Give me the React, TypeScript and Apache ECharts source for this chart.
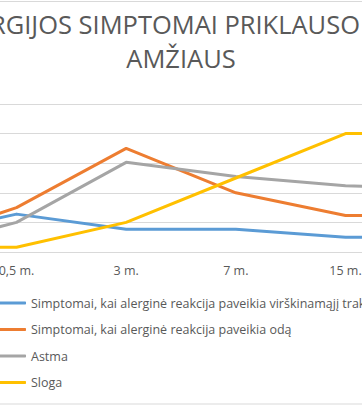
import React, { useEffect, useRef } from "react";
import * as echarts from "echarts";

const titleLine1 = "ALERGIJOS SIMPTOMAI PRIKLAUSO NUO";
const titleLine2 = "AMŽIAUS";
const categories = ["0 m.", "0,5 m.", "3 m.", "7 m.", "15 m.", "20 m."];
const seriesNames = [
  "Simptomai, kai alerginė reakcija paveikia virškinamąjį traktą",
  "Simptomai, kai alerginė reakcija paveikia odą",
  "Astma",
  "Sloga",
];
const digestiveValues = [4.5, 12.8, 7.7, 7.7, 5.0, 5.0];
const skinValues = [2.5, 15, 35, 20, 12.3, 12.3];
const asthmaValues = [0.5, 10, 30.3, 25.5, 22.4, 21];
const rhinitisValues = [1.6, 1.6, 10, 25, 40, 40];
const colors = ["#5B9BD5", "#ED7D31", "#A5A5A5", "#FFC000"];
const yMin = 0;
const yMax = 50;
const yStep = 10;

const CHART_W = 762;
const CHART_H = 407;
const OFFSET_X = 200;
const FONT = "'Open Sans', sans-serif";

function measure(text: string, size: number): number {
  const ctx = document.createElement("canvas").getContext("2d");
  if (!ctx) return text.length * size * 0.6;
  ctx.font = `${size}px 'Open Sans'`;
  return ctx.measureText(text).width;
}

export default function App() {
  const ref = useRef<HTMLDivElement>(null);
  useEffect(() => {
    if (!ref.current) return;
    const chart = echarts.init(ref.current, undefined, { renderer: "svg" });
    const valueSets = [digestiveValues, skinValues, asthmaValues, rhinitisValues];

    const visiblePart = "RGIJOS SIMPTOMAI PRIKLAUSO";
    const titleSize = Math.min(27, Math.max(23, (370 / measure(visiblePart, 100)) * 100));
    const prefixW = measure("ALE", titleSize);
    const line1Left = OFFSET_X - 10 - prefixW;
    const titleStyle = {
      fontFamily: FONT,
      fontSize: titleSize,
      fontWeight: "normal",
      color: "#595959",
      lineHeight: 34,
    };

    chart.setOption({
      animation: false,
      backgroundColor: "#ffffff",
      color: colors,
      title: [
        { text: titleLine1, left: line1Left, top: 7, padding: 0, textStyle: titleStyle },
        { text: titleLine2, left: "center", top: 41, padding: 0, textStyle: titleStyle },
      ],
      graphic: [
        {
          type: "rect",
          shape: { x: 0.5, y: 1.5, width: CHART_W - 1, height: 402.5 },
          style: { fill: "none", stroke: "#d9d9d9", lineWidth: 1 },
          silent: true,
        },
      ],
      grid: { left: 52, right: 52, top: 104, bottom: CHART_H - 252 },
      xAxis: {
        type: "category",
        data: categories,
        boundaryGap: true,
        axisLine: { lineStyle: { color: "#d9d9d9", width: 1 } },
        axisTick: { show: false },
        axisLabel: { color: "#595959", fontSize: 12.5, fontFamily: FONT, margin: 12, interval: 0 },
      },
      yAxis: {
        type: "value",
        min: yMin,
        max: yMax,
        interval: yStep,
        axisLine: { show: false },
        axisTick: { show: false },
        axisLabel: { color: "#595959", fontSize: 12.5, fontFamily: FONT },
        splitLine: { lineStyle: { color: "#d9d9d9", width: 1 } },
      },
      legend: {
        orient: "vertical",
        left: 191,
        top: 290,
        itemGap: 10.5,
        itemWidth: 30,
        itemHeight: 3,
        icon: "roundRect",
        textStyle: { color: "#595959", fontSize: 12.5, fontFamily: FONT, lineHeight: 16 },
        data: seriesNames,
      },
      series: seriesNames.map((name, i) => ({
        name,
        type: "line",
        data: valueSets[i],
        symbol: "none",
        lineStyle: { width: 3, cap: "round", join: "round", color: colors[i] },
        itemStyle: { color: colors[i] },
      })),
    });
    return () => chart.dispose();
  }, []);
  return (
    <div style={{ position: "fixed", left: 0, top: 0, width: 362, height: 407, overflow: "hidden", background: "#fff" }}>
      <div ref={ref} style={{ position: "absolute", left: -OFFSET_X, top: 0, width: CHART_W, height: CHART_H }} />
    </div>
  );
}
